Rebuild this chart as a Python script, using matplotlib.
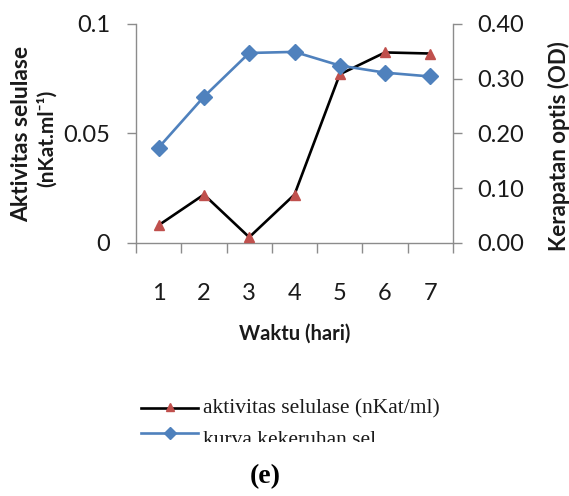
import numpy as np
import matplotlib
matplotlib.use("Agg")
import matplotlib.pyplot as plt
from matplotlib.lines import Line2D
from matplotlib.transforms import Bbox

days = [1, 2, 3, 4, 5, 6, 7]
day_labels = ["1", "2", "3", "4", "5", "6", "7"]
aktivitas = [0.008, 0.022, 0.0025, 0.022, 0.077, 0.087, 0.0865]
kekeruhan = [0.174, 0.267, 0.347, 0.349, 0.324, 0.311, 0.304]
left_ticks = [0, 0.05, 0.1]
left_ticklabels = ["0", "0.05", "0.1"]
right_ticks = [0.0, 0.1, 0.2, 0.3, 0.4]
right_ticklabels = ["0.00", "0.10", "0.20", "0.30", "0.40"]

SANS = ["Lato", "DejaVu Sans"]
SERIF = ["Liberation Serif", "DejaVu Serif"]
GRAY = "#8c8c8c"
RED = "#C0504D"
BLUE = "#4F81BD"
TXT = "#1a1a1a"

W, H = 569, 496
fig = plt.figure(figsize=(W / 100, H / 100), dpi=100)
ax = fig.add_axes([136 / W, 1 - 242.7 / H, 317 / W, 218.7 / H])
ax2 = ax.twinx()

ax.plot(days, aktivitas, color="black", lw=1.9, marker="^", ms=7,
        markerfacecolor=RED, markeredgecolor=RED, zorder=3)
ax2.plot(days, kekeruhan, color=BLUE, lw=1.9, marker="D", ms=8,
         markerfacecolor=BLUE, markeredgecolor=BLUE, zorder=3)

ax.set_xlim(0.5, 7.5)
ax.set_ylim(0, 0.1)
ax2.set_ylim(0, 0.4)

ax.set_xticks(np.arange(0.5, 8, 1))
ax.set_xticklabels([])
ax.set_xticks(days, minor=True)
ax.set_xticklabels(day_labels, minor=True, fontsize=17, family=SANS, color=TXT)
ax.tick_params(axis="x", which="major", direction="out", length=7, width=1, color=GRAY)
ax.tick_params(axis="x", which="minor", length=0, pad=29)

ax.set_yticks(left_ticks)
ax.set_yticklabels(left_ticklabels, fontsize=17, family=SANS, color=TXT)
ax.tick_params(axis="y", direction="out", length=6.5, width=1, color=GRAY, pad=12)

ax2.set_yticks(right_ticks)
ax2.set_yticklabels(right_ticklabels, fontsize=17, family=SANS, color=TXT)
ax2.tick_params(axis="y", direction="out", length=6.5, width=1, color=GRAY, pad=11)

for a in (ax, ax2):
    for s in a.spines.values():
        s.set_color(GRAY)
        s.set_linewidth(1)
    a.spines["top"].set_visible(False)
ax.spines["right"].set_visible(False)
ax2.spines["left"].set_visible(False)
ax2.spines["bottom"].set_visible(False)

# axis titles
fig.text(22 / W, 1 - 134 / H, "Aktivitas selulase", rotation=90, ha="center", va="center",
         fontsize=16.5, fontweight="bold", family=SANS, color=TXT)
fig.text(47 / W, 1 - 138 / H, "(nKat.ml\u207b\u00b9)", rotation=90, ha="center", va="center",
         fontsize=15, fontweight="bold", family=SANS, color=TXT)
fig.text(559 / W, 1 - 146 / H, "Kerapatan optis (OD)", rotation=90, ha="center", va="center",
         fontsize=16, fontweight="bold", family=SANS, color=TXT)
fig.text(294.5 / W, 1 - 334 / H, "Waktu (hari)", ha="center", va="center",
         fontsize=14.5, fontweight="bold", family=SANS, color=TXT)

# legend (manual)
def fy(y):
    return 1 - y / H

fig.add_artist(Line2D([141 / W, 198 / W], [fy(408), fy(408)], color="black", lw=1.9,
                      transform=fig.transFigure))
fig.add_artist(Line2D([170 / W], [fy(407)], marker="^", ms=6, color=RED, lw=0,
                      transform=fig.transFigure))
fig.text(203 / W, fy(413), "aktivitas selulase (nKat/ml)", ha="left", va="baseline",
         fontsize=15.5, family=SERIF, color=TXT)
fig.add_artist(Line2D([141 / W, 198 / W], [fy(433), fy(433)], color=BLUE, lw=1.9,
                      transform=fig.transFigure))
fig.add_artist(Line2D([170 / W], [fy(433)], marker="D", ms=6, color=BLUE, lw=0,
                      transform=fig.transFigure))
t2 = fig.text(203 / W, fy(445), "kurva kekeruhan sel", ha="left", va="baseline",
              fontsize=15.5, family=SERIF, color=TXT)
t2.set_clip_box(Bbox([[0, H - 442], [W, H]]))
t2.set_clip_on(True)

fig.text(265 / W, fy(477), "(e)", ha="center", va="center",
         fontsize=20, fontweight="bold", family=SERIF, color="black")

fig.savefig("out.png", dpi=100)
